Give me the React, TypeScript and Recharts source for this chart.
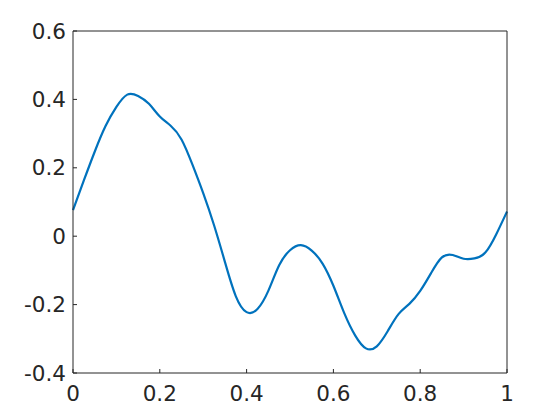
import { LineChart, Line, XAxis, YAxis } from "recharts";

const xs = [
  0, 0.025, 0.05, 0.075, 0.1, 0.125, 0.15, 0.175, 0.2, 0.225, 0.25, 0.275, 0.3, 0.325,
  0.35, 0.375, 0.4, 0.425, 0.45, 0.475, 0.5, 0.525, 0.55, 0.575, 0.6, 0.625, 0.65,
  0.675, 0.7, 0.725, 0.75, 0.775, 0.8, 0.825, 0.85, 0.875, 0.9, 0.925, 0.95, 0.975, 1,
];
const ys = [
  0.076, 0.163, 0.247, 0.322, 0.378, 0.414, 0.41, 0.387, 0.35, 0.323, 0.283, 0.21, 0.126,
  0.032, -0.075, -0.175, -0.222, -0.213, -0.16, -0.085, -0.041, -0.026, -0.042, -0.08,
  -0.145, -0.225, -0.29, -0.328, -0.322, -0.278, -0.228, -0.198, -0.16, -0.108, -0.062,
  -0.055, -0.066, -0.065, -0.048, 0.005, 0.072,
];
const xTicks = [0, 0.2, 0.4, 0.6, 0.8, 1];
const yTicks = [-0.4, -0.2, 0, 0.2, 0.4, 0.6];

const data = xs.map((x, i) => ({ x, y: ys[i] }));

const ink = "#262626";
const font = { fontSize: 21.5, fill: ink, fontFamily: "DejaVu Sans" };

export default function App() {
  return (
    <div style={{ position: "fixed", left: 0, top: 0, background: "#fff" }}>
      <LineChart width={560} height={420} data={data} margin={{ top: 30, right: 52, left: 13, bottom: 17 }}>
        <XAxis
          dataKey="x"
          type="number"
          domain={[0, 1]}
          ticks={xTicks}
          height={30}
          tickSize={-4}
          tickMargin={17}
          tick={font}
          stroke={ink}
          tickLine={{ stroke: ink }}
        />
        <XAxis
          xAxisId="top"
          orientation="top"
          dataKey="x"
          type="number"
          domain={[0, 1]}
          ticks={xTicks}
          height={1}
          tickSize={-4}
          tick={false}
          stroke={ink}
          tickLine={{ stroke: ink }}
        />
        <YAxis
          type="number"
          domain={[-0.4, 0.6]}
          ticks={yTicks}
          width={60}
          tickSize={-4}
          tickMargin={11}
          tick={font}
          stroke={ink}
          tickLine={{ stroke: ink }}
        />
        <YAxis
          yAxisId="right"
          orientation="right"
          type="number"
          domain={[-0.4, 0.6]}
          ticks={yTicks}
          width={1}
          tickSize={-4}
          tick={false}
          stroke={ink}
          tickLine={{ stroke: ink }}
        />
        <Line
          type="natural"
          dataKey="y"
          stroke="#0072BD"
          strokeWidth={2.2}
          dot={false}
          isAnimationActive={false}
        />
      </LineChart>
    </div>
  );
}
